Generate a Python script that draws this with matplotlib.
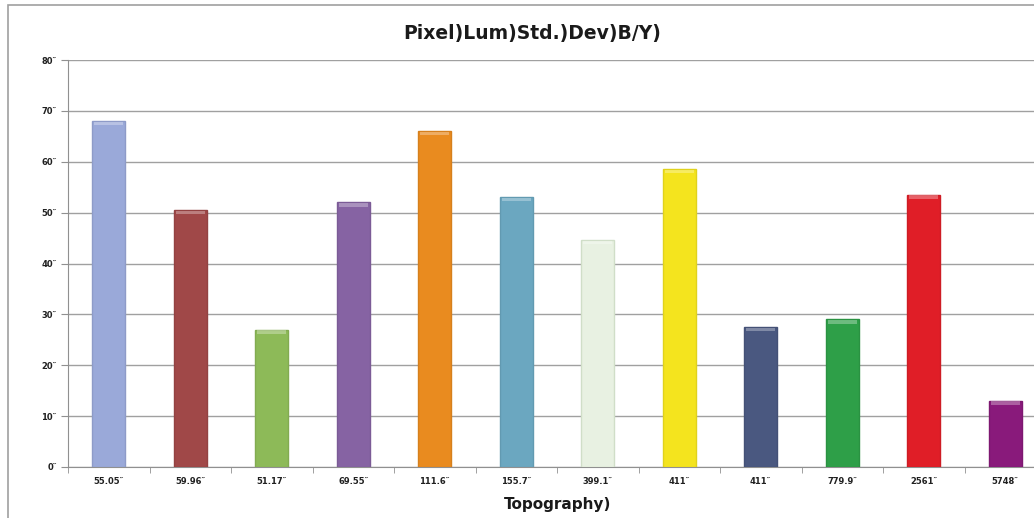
import numpy as np
import matplotlib.pyplot as plt
from matplotlib.patches import Rectangle
from matplotlib.colors import to_rgb

# datos
etiquetas = ["55.05\u2033", "59.96\u2033", "51.17\u2033", "69.55\u2033", "111.6\u2033", "155.7\u2033",
             "399.1\u2033", "411\u2033", "411\u2033", "779.9\u2033", "2561\u2033", "5748\u2033"]
valores = [68, 50.5, 27, 52, 66, 53, 44.6, 58.5, 27.5, 29, 53.5, 13]
colores = ["#9AA9D9", "#A04848", "#8DBA58", "#8663A3", "#E98B1F", "#6BA7C0",
           "#E8F1E2", "#F4E41E", "#4A5880", "#2E9F48", "#E01E27", "#891A7B"]
yticks = [0, 10, 20, 30, 40, 50, 60, 70, 80]


def oscurecer(c, f=0.92):
    r, g, b = to_rgb(c)
    return (r * f, g * f, b * f)


fig = plt.figure(figsize=(10.34, 5.18), dpi=100)

# marco exterior del gráfico
fig.patches.append(Rectangle((8 / 1034, -0.1), 1.2, (518 - 5) / 518 + 0.1,
                             transform=fig.transFigure, fill=False,
                             edgecolor="#A0A0A0", linewidth=1.2))

ax = fig.add_axes([68 / 1034, 51 / 518, 978 / 1034, 407 / 518])
x = np.arange(len(valores))
bordes = ["#D0DEC8" if c == "#E8F1E2" else oscurecer(c) for c in colores]
ax.bar(x, valores, width=0.4, color=colores, edgecolor=bordes, linewidth=1.0, zorder=3)

# brillo en la parte superior de cada barra
for xi, v in zip(x, valores):
    ax.bar(xi, 0.7, bottom=v - 0.8, width=0.36, color="white", alpha=0.3, zorder=4, linewidth=0)

ax.set_xlim(-0.5, len(valores) - 0.5)
ax.set_ylim(0, 80)
ax.set_yticks(yticks)
ax.set_yticklabels([f"{t}\u2033" for t in yticks], fontsize=6, fontweight="bold", color="#202020")
ax.set_xticks(x)
ax.set_xticklabels(etiquetas, fontsize=6, fontweight="bold", color="#202020")
ax.set_xticks(np.arange(-0.5, len(valores), 1), minor=True)
ax.tick_params(axis="x", which="major", length=0, pad=7)
ax.tick_params(axis="x", which="minor", length=4, color="#909090")
ax.tick_params(axis="y", length=5, color="#909090", pad=3)
ax.grid(axis="y", color="#A0A0A0", linewidth=1, zorder=0)
for lado in ["top", "right"]:
    ax.spines[lado].set_visible(False)
for lado in ["left", "bottom"]:
    ax.spines[lado].set_color("#909090")

fig.text(532 / 1034, 1 - 33 / 518, "Pixel)Lum)Std.)Dev)B/Y)", ha="center", va="center",
         fontsize=13.5, fontweight="bold", color="#1A1A1A")
fig.text(558 / 1034, 1 - 505 / 518, "Topography)", ha="center", va="center",
         fontsize=11, fontweight="bold", color="#1A1A1A")

fig.savefig("out.png", dpi=100)
